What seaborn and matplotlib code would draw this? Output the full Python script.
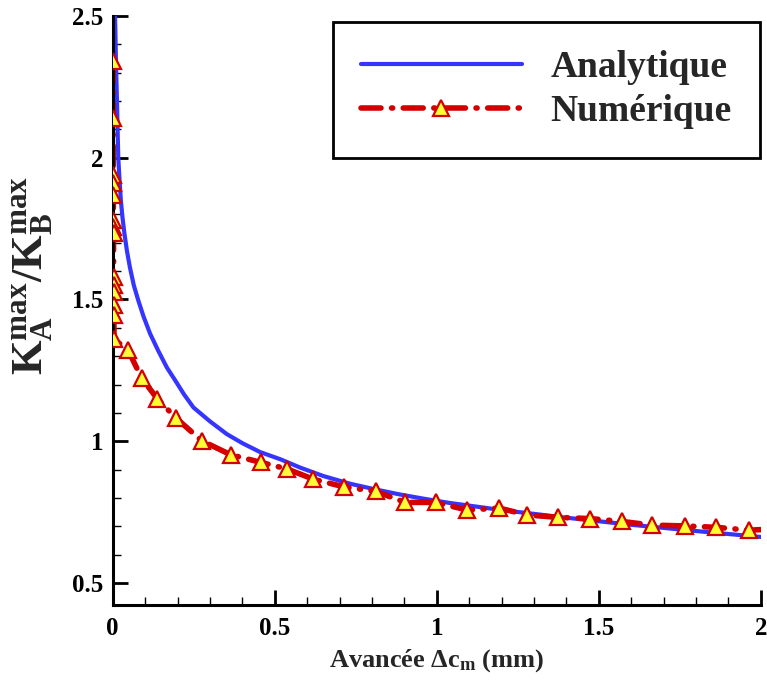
import numpy as np
import pandas as pd
import matplotlib
matplotlib.use("Agg")
import matplotlib.pyplot as plt
import seaborn as sns
from matplotlib.ticker import MultipleLocator, FormatStrFormatter
from matplotlib.lines import Line2D

# ---- data ----
analytic_x = [0.007, 0.008, 0.010, 0.013, 0.017, 0.021, 0.025, 0.030, 0.036, 0.044,
              0.053, 0.065, 0.079, 0.095, 0.115, 0.14, 0.167, 0.193, 0.22, 0.249,
              0.3, 0.352, 0.40, 0.454, 0.52, 0.578, 0.65, 0.732, 0.81, 0.886,
              0.96, 1.04, 1.2, 1.4, 1.6, 1.8, 2.0]
analytic_y = [2.5, 2.45, 2.33, 2.20, 2.0, 1.92, 1.85, 1.79, 1.733, 1.67,
              1.613, 1.55, 1.496, 1.44, 1.38, 1.32, 1.26, 1.214, 1.165, 1.119,
              1.07, 1.025, 0.993, 0.962, 0.935, 0.907, 0.877, 0.85, 0.83, 0.812,
              0.797, 0.782, 0.757, 0.730, 0.705, 0.683, 0.662]

numeric_x = [0.001, 0.0012, 0.0014, 0.0016, 0.0018, 0.002, 0.0022, 0.0024, 0.0026,
             0.0028, 0.003, 0.0032, 0.0034, 0.004,
             0.048, 0.089, 0.138, 0.195, 0.274, 0.364, 0.458, 0.538, 0.619, 0.713,
             0.811, 0.903, 0.996, 1.094, 1.193, 1.277, 1.375, 1.472, 1.570, 1.663,
             1.765, 1.863, 1.963, 2.0]
numeric_y = [2.34, 2.14, 1.94, 1.91, 1.87, 1.78, 1.755, 1.735, 1.58,
             1.55, 1.525, 1.48, 1.445, 1.36,
             1.320, 1.223, 1.149, 1.082, 1.002, 0.952, 0.925, 0.902, 0.866, 0.839,
             0.823, 0.784, 0.784, 0.757, 0.764, 0.740, 0.731, 0.727, 0.717, 0.704,
             0.701, 0.696, 0.686, 0.688]
numeric_marked = [True] * 37 + [False]

labels = ["Analytique", "Numérique"]
x_label = "Avancée $\\mathbf{\\Delta}$c$_\\mathbf{m}$ (mm)"
y_label = r"$\mathbf{K}^{\mathbf{max}}_{\mathbf{A}}\mathbf{/K}^{\mathbf{max}}_{\mathbf{B}}$"

# ---- style ----
sns.set_style("white")
plt.rcParams["font.family"] = ["Liberation Serif", "DejaVu Serif"]
plt.rcParams["font.weight"] = "bold"
plt.rcParams["mathtext.fontset"] = "custom"
plt.rcParams["mathtext.rm"] = "Liberation Serif:bold"
plt.rcParams["mathtext.bf"] = "Liberation Serif:bold"
plt.rcParams["mathtext.it"] = "Liberation Serif:bold"

fig = plt.figure(figsize=(7.67, 6.84), dpi=100)
ax = fig.add_axes([0.147, 0.1155, 0.845, 0.861])

blue = "#3535ff"
red = "#d40000"
yellow = "#ffff33"
dash = [3.6, 1.9, 0.2, 1.9]

df_a = pd.DataFrame({"x": analytic_x, "y": analytic_y})
df_n = pd.DataFrame({"x": numeric_x, "y": numeric_y})

sns.lineplot(data=df_a, x="x", y="y", ax=ax, color=blue, lw=3.0,
             estimator=None, sort=False, legend=False)
sns.lineplot(data=df_n, x="x", y="y", ax=ax, color=red, lw=4.0,
             estimator=None, sort=False, legend=False)
line_n = ax.lines[-1]
line_n.set_dashes(dash)
line_n.set_dash_capstyle("round")

mk = df_n[numeric_marked]
ax.plot(mk["x"], mk["y"], ls="none", marker="^", ms=12, mfc=yellow,
        mec=red, mew=1.6, zorder=5)

h_a = Line2D([0, 1], [0, 0], color=blue, lw=3.0)
h_n = Line2D([0, 0.5, 1], [0, 0, 0], color=red, lw=4.0, dashes=dash,
             dash_capstyle="round", marker="^", ms=12, mfc=yellow, mec=red,
             mew=1.6, markevery=[1])
leg = ax.legend([h_a, h_n], labels, loc="upper right",
                bbox_to_anchor=(0.998, 0.99), borderaxespad=0,
                prop={"family": "Liberation Serif", "weight": "bold", "size": 27},
                handlelength=4.3, handletextpad=0.75, labelspacing=0.25,
                borderpad=0.75, fancybox=False, framealpha=1, edgecolor="black",
                numpoints=1)
leg.get_frame().set_linewidth(2.0)

ax.set_xlim(0, 2)
ax.set_ylim(0.422, 2.5)
ax.xaxis.set_major_locator(MultipleLocator(0.5))
ax.xaxis.set_minor_locator(MultipleLocator(0.1))
ax.yaxis.set_major_locator(MultipleLocator(0.5))
ax.yaxis.set_minor_locator(MultipleLocator(0.1))
ax.xaxis.set_major_formatter(FormatStrFormatter("%g"))
ax.yaxis.set_major_formatter(FormatStrFormatter("%g"))

for s in ["top", "right"]:
    ax.spines[s].set_visible(False)
for s in ["left", "bottom"]:
    ax.spines[s].set_linewidth(2.2)
    ax.spines[s].set_color("black")

ax.tick_params(which="both", bottom=True, left=True, top=False, right=False)
ax.tick_params(which="major", direction="in", length=11, width=2.0,
               labelsize=18, pad=7, colors="black")
ax.tick_params(which="minor", direction="in", length=5.5, width=1.0,
               colors="black")
ax.tick_params(axis="x", which="major", pad=9)
for t in ax.get_xticklabels() + ax.get_yticklabels():
    t.set_fontweight("bold")
    t.set_family("Liberation Serif")

ax.set_xlabel(x_label, fontsize=19, fontweight="bold", family="Liberation Serif")
ax.set_ylabel(y_label, fontsize=32, fontweight="bold")
ax.xaxis.set_label_coords(0.5, -0.072)
ax.yaxis.set_label_coords(-0.088, 0.56)

fig.savefig("out.png", dpi=100)
